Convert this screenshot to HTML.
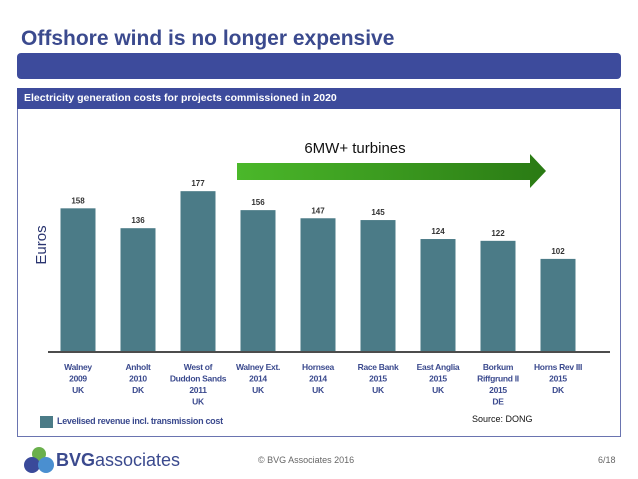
<!DOCTYPE html>
<html><head><meta charset="utf-8"><style>
body{margin:0;width:638px;height:479px;background:#fff;font-family:"Liberation Sans",sans-serif;overflow:hidden;position:relative}
.abs{position:absolute}
</style></head><body>
<div class="abs" style="left:21px;top:27px;font-size:21px;font-weight:bold;color:#3b4a8e">Offshore wind is no longer expensive</div>
<div class="abs" style="left:17px;top:53px;width:604px;height:26px;background:#3d4b9c;border-radius:4px"></div>
<div class="abs" style="left:17px;top:88px;width:602px;height:347px;border:1px solid #6a74b0"></div>
<div class="abs" style="left:17px;top:88px;width:604px;height:21px;background:#3d4b9c;color:#fff;font-size:10.5px;font-weight:bold;line-height:21px;padding-left:7px;box-sizing:border-box">Electricity generation costs for projects commissioned in 2020</div>
<svg class="abs" style="left:0;top:0" width="638" height="479">
<defs><linearGradient id="g" x1="0" x2="1"><stop offset="0" stop-color="#4bb82a"/><stop offset="1" stop-color="#2a7a14"/></linearGradient></defs>
<polygon points="237,163 530,163 530,154 546,171 530,188 530,180 237,180" fill="url(#g)"/>
<text x="355" y="153" text-anchor="middle" font-size="15" fill="#111">6MW+ turbines</text>
<text transform="translate(46,245) rotate(-90)" text-anchor="middle" font-size="15" fill="#2a3570">Euros</text>
<g id="bars"></g>
<line x1="48" y1="352" x2="610" y2="352" stroke="#111" stroke-width="1.5"/>
</svg>
<div class="abs" style="left:40px;top:416px;width:13px;height:12px;background:#4b7b87"></div>
<div class="abs" style="left:57px;top:416px;font-size:9px;font-weight:bold;color:#3b4a8e;letter-spacing:-0.3px">Levelised revenue incl. transmission cost</div>
<div class="abs" style="left:472px;top:414px;font-size:9px;color:#111">Source: DONG</div>
<svg class="abs" style="left:24px;top:446px" width="30" height="28">
<circle cx="15" cy="8" r="7" fill="#6ab04c"/><circle cx="8" cy="19" r="8" fill="#3a4a9a"/><circle cx="22" cy="19" r="8" fill="#4a8fd0"/></svg>
<div class="abs" style="left:56px;top:450px;font-size:18px;color:#3b4a8e"><b>BVG</b>associates</div>
<div class="abs" style="left:258px;top:455px;font-size:9px;color:#666">© BVG Associates 2016</div>
<div class="abs" style="left:598px;top:455px;font-size:9px;color:#666">6/18</div>
<script>
const categories=[["Walney","2009","UK"],["Anholt","2010","DK"],["West of","Duddon Sands","2011","UK"],["Walney Ext.","2014","UK"],["Hornsea","2014","UK"],["Race Bank","2015","UK"],["East Anglia","2015","UK"],["Borkum","Riffgrund II","2015","DE"],["Horns Rev III","2015","DK"]];
const values=[158,136,177,156,147,145,124,122,102];
const base=351,scale=0.903,x0=78,step=60,bw=35;
const xPos=i=>x0+i*step, yPos=v=>base-v*scale;
const g=document.getElementById('bars'),NS='http://www.w3.org/2000/svg';
values.forEach((v,i)=>{
 const r=document.createElementNS(NS,'rect');
 r.setAttribute('x',xPos(i)-bw/2);r.setAttribute('y',yPos(v));r.setAttribute('width',bw);r.setAttribute('height',base-yPos(v));r.setAttribute('fill','#4b7b87');
 
 
 g.appendChild(r);
 const t=document.createElementNS(NS,'text');
 t.setAttribute('x',xPos(i));t.setAttribute('y',yPos(v)-5);t.setAttribute('text-anchor','middle');t.setAttribute('font-size','8');t.setAttribute('font-weight','bold');t.setAttribute('fill','#333');
 t.textContent=v;
 
 
 g.appendChild(t);
 categories[i].forEach((ln,j)=>{
  const c=document.createElementNS(NS,'text');
  c.setAttribute('x',xPos(i));c.setAttribute('y',370+j*11.5);c.setAttribute('text-anchor','middle');c.setAttribute('font-size','8.5');c.setAttribute('font-weight','bold');c.setAttribute('fill','#3b4a8e');c.setAttribute('letter-spacing','-0.3');
  c.textContent=ln;
  
  
  g.appendChild(c);
 });
});
</script>
</body></html>
